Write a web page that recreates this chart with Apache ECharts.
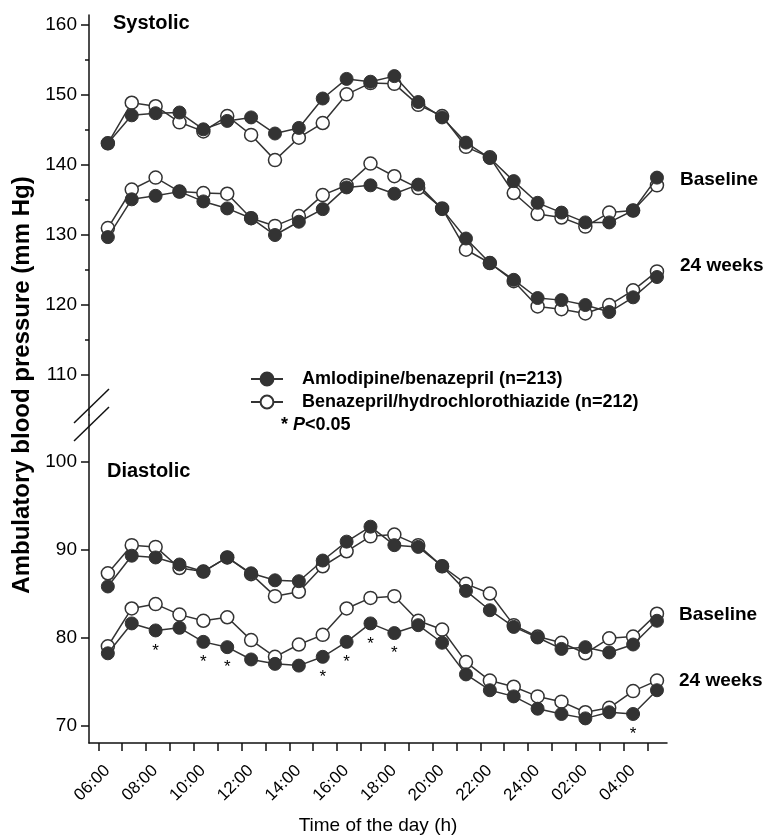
<!DOCTYPE html>
<html><head><meta charset="utf-8">
<script src="https://cdn.jsdelivr.net/npm/echarts@6/dist/echarts.min.js"></script>
<style>html,body{margin:0;padding:0;background:#fff}#c{width:766px;height:837px}</style>
</head><body><div id="c"></div>
<script>
// time of each hourly reading (decimal hours, 24+ = next day)
const hours = [6.4,7.4,8.4,9.4,10.4,11.4,12.4,13.4,14.4,15.4,16.4,17.4,18.4,19.4,20.4,21.4,22.4,23.4,24.4,25.4,26.4,27.4,28.4,29.4];

const sysBaseAmlo = [143.1,147.1,147.4,147.5,145.1,146.3,146.8,144.5,145.3,149.5,152.3,151.9,152.7,149.0,146.8,143.2,141.0,137.7,134.6,133.2,131.8,131.8,133.5,138.2];
const sysBaseBena = [143.1,148.9,148.4,146.1,144.8,147.0,144.3,140.7,143.9,146.0,150.1,151.7,151.6,148.6,147.0,142.6,141.1,136.0,133.0,132.5,131.2,133.2,133.5,137.1];
const sys24Amlo  = [129.7,135.1,135.6,136.2,134.8,133.8,132.4,130.0,131.9,133.7,136.8,137.1,135.9,137.2,133.7,129.5,126.0,123.6,121.0,120.7,120.0,119.0,121.1,124.0];
const sys24Bena  = [131.0,136.5,138.2,136.2,136.0,135.9,132.4,131.3,132.7,135.7,137.1,140.2,138.4,136.7,133.8,127.9,126.0,123.4,119.8,119.4,118.8,120.0,122.1,124.8];

const diaBaseAmlo = [85.8,89.3,89.1,88.3,87.5,89.1,87.3,86.5,86.4,88.75,90.9,92.6,90.5,90.3,88.1,85.3,83.1,81.2,80.0,78.7,78.9,78.3,79.2,81.9];
const diaBaseBena = [87.3,90.5,90.3,87.9,87.5,89.1,87.2,84.7,85.2,88.1,89.8,91.5,91.7,90.5,88.1,86.1,85.0,81.4,80.1,79.4,78.2,79.9,80.1,82.7];
const dia24Amlo  = [78.2,81.6,80.8,81.1,79.5,78.9,77.5,77.0,76.8,77.8,79.5,81.6,80.5,81.4,79.4,75.8,74.0,73.3,71.9,71.3,70.8,71.5,71.3,74.0];
const dia24Bena  = [79.0,83.3,83.8,82.6,81.9,82.3,79.7,77.8,79.2,80.3,83.3,84.5,84.7,81.9,80.9,77.2,75.1,74.4,73.3,72.7,71.5,72.0,73.9,75.1];

// indices of 24-week diastolic readings with P<0.05
const sigIdx = [2,4,5,9,10,11,12,22];

const xTickHours = [6,7,8,9,10,11,12,13,14,15,16,17,18,19,20,21,22,23,24,25,26,27,28,29];
const xLabelHours = [6,8,10,12,14,16,18,20,22,24,26,28];
const xLabels = ['06:00','08:00','10:00','12:00','14:00','16:00','18:00','20:00','22:00','24:00','02:00','04:00'];
const sysTicks = [110,120,130,140,150,160];
const sysMinorTicks = [115,125,135,145,155];
const diaTicks = [70,80,90,100];

const nameA = 'Amlodipine/benazepril (n=213)';
const nameB = 'Benazepril/hydrochlorothiazide (n=212)';

const FONT = '"Liberation Sans", Arial, Helvetica, sans-serif';
const INK = '#333';
const TXT = '#000';
const LABEL_SHIFT = 0.38; // rotated labels sit slightly right of their tick

function mk(name, vals, grid, filled, sig) {
  const data = vals.map((v, i) => {
    const item = { value: [hours[i], v] };
    if (sig && sig.indexOf(i) >= 0) item.label = { show: true };
    return item;
  });
  return {
    type: 'line', name, data,
    xAxisIndex: grid, yAxisIndex: grid === 0 ? 0 : 2,
    symbol: 'circle', symbolSize: 13, showSymbol: true,
    lineStyle: { color: INK, width: 1.5 },
    itemStyle: filled ? { color: INK, borderColor: INK, borderWidth: 1 }
                      : { color: '#fff', borderColor: INK, borderWidth: 1.5 },
    z: filled ? 4 : 3,
    label: { show: false, formatter: '*', position: 'bottom', distance: 5,
             fontSize: 17, color: TXT, fontFamily: FONT },
    emphasis: { disabled: true },
    animation: false
  };
}

const chart = echarts.init(document.getElementById('c'), null, { renderer: 'canvas' });

const axisLineStyle = { color: '#111', width: 1.5 };

chart.setOption({
  animation: false,
  backgroundColor: '#fff',
  grid: [
    { left: 89, right: 99, top: 15, height: 400 },
    { left: 89, right: 99, top: 415, height: 328 }
  ],
  xAxis: [
    { type: 'value', gridIndex: 0, min: 5.61, max: 29.82, show: false },
    { type: 'value', gridIndex: 1, min: 5.61, max: 29.82,
      axisLine: { show: true, lineStyle: axisLineStyle },
      axisTick: { show: true, customValues: xTickHours, length: 8, lineStyle: axisLineStyle },
      axisLabel: { customValues: xLabelHours.map(h => h + LABEL_SHIFT), rotate: 45, margin: 25, fontSize: 17,
                   color: TXT, fontFamily: FONT,
                   formatter: v => xLabels[xLabelHours.indexOf(Math.round(v - LABEL_SHIFT))] || '' },
      splitLine: { show: false },
      name: 'Time of the day (h)', nameLocation: 'middle', nameGap: 73,
      nameTextStyle: { fontSize: 19, color: TXT, fontFamily: FONT }
    }
  ],
  yAxis: [
    { type: 'value', gridIndex: 0, min: 104.29, max: 161.43, position: 'left',
      axisLine: { show: true, lineStyle: axisLineStyle },
      axisTick: { show: true, customValues: sysTicks, length: 8, lineStyle: axisLineStyle },
      axisLabel: { customValues: sysTicks, fontSize: 19, margin: 12, color: TXT, fontFamily: FONT },
      splitLine: { show: false } },
    { type: 'value', gridIndex: 0, min: 104.29, max: 161.43, position: 'left', offset: 0,
      axisLine: { show: false },
      axisTick: { show: true, customValues: sysMinorTicks, length: 4, lineStyle: axisLineStyle },
      axisLabel: { show: false },
      splitLine: { show: false } },
    { type: 'value', gridIndex: 1, min: 68, max: 105.3, position: 'left',
      axisLine: { show: true, lineStyle: axisLineStyle },
      axisTick: { show: true, customValues: diaTicks, length: 8, lineStyle: axisLineStyle },
      axisLabel: { customValues: diaTicks, fontSize: 19, margin: 12, color: TXT, fontFamily: FONT },
      splitLine: { show: false } }
  ],
  legend: {
    data: [nameA, nameB], orient: 'vertical', left: 250, top: 370, padding: 0,
    itemWidth: 32, itemHeight: 16, itemGap: 5, selectedMode: false,
    textStyle: { fontSize: 18, fontWeight: 'bold', color: TXT, fontFamily: FONT, padding: [0, 0, 0, 14] }
  },
  graphic: [
    { type: 'text', left: 113, top: 13, style: { text: 'Systolic', font: 'bold 20px ' + FONT, fill: TXT } },
    { type: 'text', left: 107, top: 461, style: { text: 'Diastolic', font: 'bold 20px ' + FONT, fill: TXT } },
    { type: 'text', left: 680, top: 170, style: { text: 'Baseline', font: 'bold 19px ' + FONT, fill: TXT } },
    { type: 'text', left: 680, top: 256, style: { text: '24 weeks', font: 'bold 19px ' + FONT, fill: TXT } },
    { type: 'text', left: 679, top: 605, style: { text: 'Baseline', font: 'bold 19px ' + FONT, fill: TXT } },
    { type: 'text', left: 679, top: 671, style: { text: '24 weeks', font: 'bold 19px ' + FONT, fill: TXT } },
    { type: 'text', left: 281, top: 416, style: {
        text: '{a|* }{b|P}{a|<0.05}',
        rich: { a: { font: 'bold 18px ' + FONT, fill: TXT },
                b: { font: 'italic bold 18px ' + FONT, fill: TXT } } } },
    { type: 'text', x: 22, y: 385, rotation: Math.PI / 2,
      style: { text: 'Ambulatory blood pressure (mm Hg)', font: 'bold 24px ' + FONT, fill: TXT,
               align: 'center', verticalAlign: 'middle' } },
    { type: 'line', shape: { x1: 74, y1: 423, x2: 109, y2: 389 }, style: { stroke: '#111', lineWidth: 1.5 } },
    { type: 'line', shape: { x1: 74, y1: 441, x2: 109, y2: 407 }, style: { stroke: '#111', lineWidth: 1.5 } }
  ],
  series: [
    mk(nameB, sysBaseBena, 0, false),
    mk(nameB, sys24Bena, 0, false),
    mk(nameB, diaBaseBena, 1, false),
    mk(nameB, dia24Bena, 1, false),
    mk(nameA, sysBaseAmlo, 0, true),
    mk(nameA, sys24Amlo, 0, true),
    mk(nameA, diaBaseAmlo, 1, true),
    mk(nameA, dia24Amlo, 1, true, sigIdx)
  ]
});
</script>
</body></html>
